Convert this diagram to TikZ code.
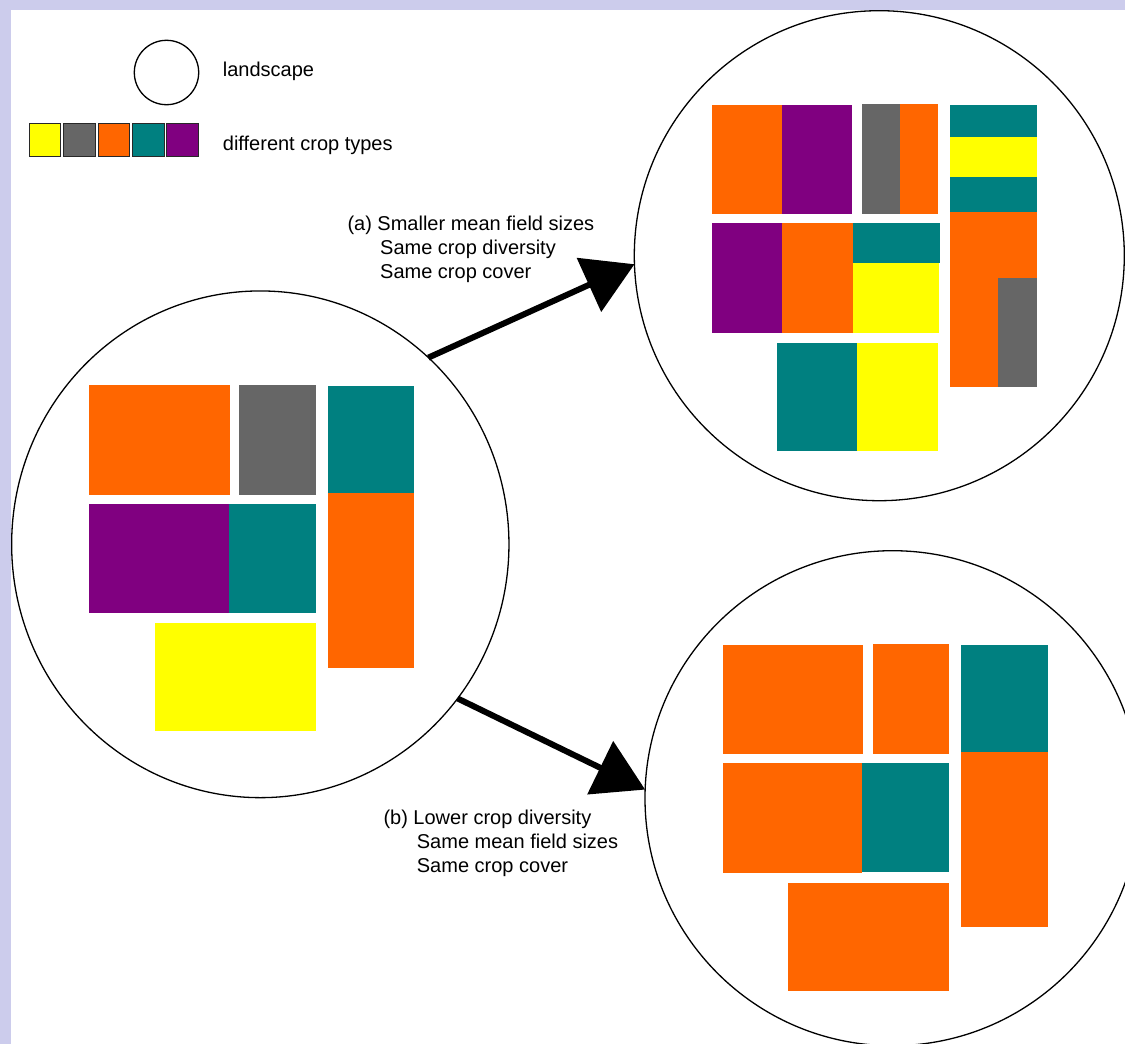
\documentclass[tikz,border=0pt]{standalone}
\usepackage{fontspec}
\setmainfont{Liberation Sans}
\usetikzlibrary{arrows.meta,shapes.geometric}
\definecolor{corange}{HTML}{FF6600}
\definecolor{cpurple}{HTML}{800080}
\definecolor{cgray}{HTML}{666666}
\definecolor{cteal}{HTML}{008080}
\definecolor{cyellow}{HTML}{FFFF00}
\definecolor{cframe}{RGB}{204,204,236}
\tikzset{
  land/.style={draw=black, line width=1.3pt, fill=none, inner sep=0pt, outer sep=0pt},
  legsq/.style={draw={rgb,255:red,40;green,40;blue,40}, line width=1pt},
  bigarrow/.style={line width=6pt, -{Triangle[length=50pt,width=58pt]}},
  txt/.style={font=\fontsize{20}{24}\selectfont, inner sep=0pt, anchor=base west}
}
\begin{document}
\begin{tikzpicture}[x=1pt,y=-1pt]
\useasboundingbox (0,0) rectangle (1125,1044);
\fill[cframe] (0,0) rectangle (1125,1044);
\fill[white] (11,9.5) rectangle (1125,1044);

% legend
\node[land, circle, minimum size=64.4pt] (legcirc) at (166.5,72.5) {};
\node[txt] (leglandtxt) at (222.7,76.7) {landscape};
\filldraw[legsq, fill=cyellow] (29,123.7) rectangle (60.7,156.3);
\filldraw[legsq, fill=cgray] (63.3,123.7) rectangle (95,156.3);
\filldraw[legsq, fill=corange] (98,123.7) rectangle (129.7,156.3);
\filldraw[legsq, fill=cteal] (132.3,123.7) rectangle (164,156.3);
\filldraw[legsq, fill=cpurple] (166.3,123.7) rectangle (198,156.3);
\node[txt] (legcroptxt) at (222.7,150) {different crop types};

% left landscape
\fill[corange] (89.3,385.3) rectangle (230,495.3);
\fill[cgray] (239.3,384.7) rectangle (316,494.7);
\fill[cteal] (328,385.7) rectangle (414,492.7);
\fill[corange] (328,492.7) rectangle (414,668);
\fill[cpurple] (89.3,503.7) rectangle (229.3,613.3);
\fill[cteal] (229.3,503.7) rectangle (316,612.7);
\fill[cyellow] (155,623.3) rectangle (316,731.3);
\node[land, ellipse, minimum width=497.3pt, minimum height=506.7pt] (L) at (260.3,544.3) {};

% top right landscape
\fill[corange] (712,105) rectangle (782,214);
\fill[cpurple] (782,105) rectangle (852,214);
\fill[cgray] (862,104) rectangle (900,214);
\fill[corange] (900,104) rectangle (938,214);
\fill[cteal] (950,105) rectangle (1037,137);
\fill[cyellow] (950,137) rectangle (1037,177);
\fill[cteal] (950,177) rectangle (1037,212);
\fill[corange] (950,212) rectangle (1037,387);
\fill[cgray] (998,278) rectangle (1037,387);
\fill[cpurple] (712,223) rectangle (782,333);
\fill[corange] (782,223) rectangle (852.5,333);
\fill[cteal] (852.5,223) rectangle (939.5,263);
\fill[cyellow] (852.5,263) rectangle (938.5,332.5);
\fill[cteal] (777.3,342.7) rectangle (856.7,450.7);
\fill[cyellow] (856.7,342.7) rectangle (938,450.7);
\node[land, circle, minimum size=490pt] (A) at (879.3,255.7) {};

% bottom right landscape
\fill[corange] (722.7,644.7) rectangle (863.3,754.3);
\fill[corange] (873,644) rectangle (949.3,753.7);
\fill[cteal] (961,645) rectangle (1047.7,752);
\fill[corange] (961,752) rectangle (1047.7,927.3);
\fill[corange] (722.7,763) rectangle (862,872.7);
\fill[cteal] (862,763) rectangle (949.3,872.3);
\fill[corange] (788,882.7) rectangle (949.3,990.7);
\node[land, circle, minimum size=495pt] (B) at (892.5,798.2) {};

% arrows
\draw[bigarrow] (L.48.4) -- (A.182.6);
\draw[bigarrow] (L.-38.5) -- (B.178.1);

% labels
\node[txt] (a1) at (347.3,230) {(a) Smaller mean field sizes};
\node[txt] (a2) at (380,254) {Same crop diversity};
\node[txt] (a3) at (380,278) {Same crop cover};
\node[txt] (b1) at (383.3,824) {(b) Lower crop diversity};
\node[txt] (b2) at (416.7,848) {Same mean field sizes};
\node[txt] (b3) at (416.7,872) {Same crop cover};
\end{tikzpicture}
\end{document}
